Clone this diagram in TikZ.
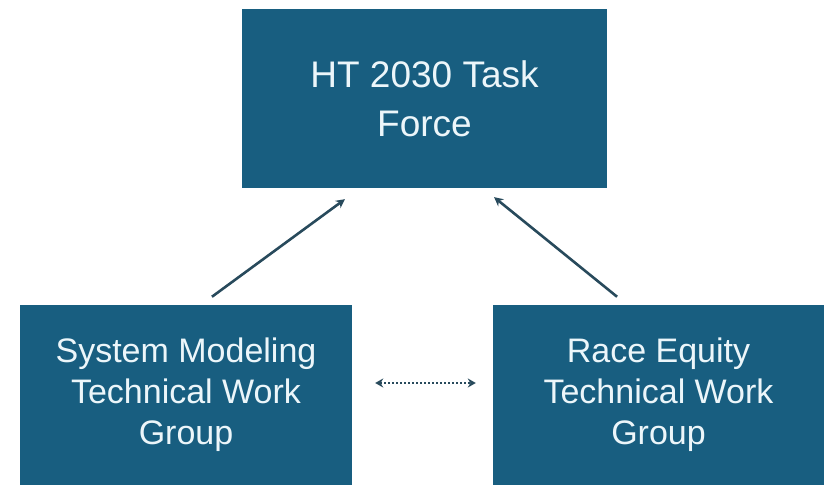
\documentclass[tikz,border=0pt]{standalone}
\usepackage{fontspec}
\setmainfont{Liberation Sans}
\usetikzlibrary{arrows.meta}
\definecolor{boxblue}{RGB}{24,94,128}
\definecolor{boxtext}{RGB}{236,246,250}
\definecolor{linkgray}{RGB}{40,74,92}
\begin{document}
\begin{tikzpicture}[x=1pt,y=1pt,
    group/.style={fill=boxblue, text=boxtext, align=center, inner sep=0pt},
    link/.style={linkgray, line width=2.6pt, -{Stealth[length=9pt,width=9pt]}}]
    \useasboundingbox (0,0) rectangle (831,485);

    \node[group, minimum width=365pt, minimum height=179pt,
        font=\fontsize{37}{49}\selectfont] (tf) at (424.5,386.5) {HT 2030 Task\\Force};
    \node[group, minimum width=332pt, minimum height=180pt,
        font=\fontsize{34}{41}\selectfont] (sm) at (186,90) {System Modeling\\Technical Work\\Group};
    \node[group, minimum width=331pt, minimum height=180pt,
        font=\fontsize{34}{41}\selectfont] (re) at (658.5,90) {Race Equity\\Technical Work\\Group};

    \draw[link, shorten <=13.6pt, shorten >=18.6pt] ([xshift=15pt]sm.north) -- ([xshift=-64.5pt]tf.south);
    \draw[link, shorten <=12.8pt, shorten >=14.2pt] ([xshift=-31.5pt]re.north) -- ([xshift=58.5pt]tf.south);
    \draw[link, line width=2pt, dotted, {Stealth[length=8pt,width=9pt]}-{Stealth[length=8pt,width=9pt]},
        shorten <=23pt, shorten >=17pt] ([yshift=12pt]sm.east) -- ([yshift=12pt]re.west);
\end{tikzpicture}
\end{document}
